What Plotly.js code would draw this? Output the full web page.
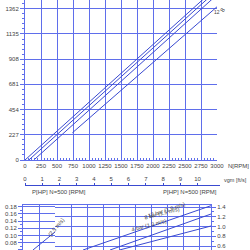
<!DOCTYPE html>
<html><head><meta charset="utf-8">
<script src="https://cdn.plot.ly/plotly-3.0.1.min.js"></script>
<style>html,body{margin:0;padding:0;background:#fff}#c{width:250px;height:250px}</style>
</head><body><div id="c"></div>
<script>
// Flow Q vs speed N for pressure levels
const flowN1 = [0, 3000];   const flowQ1 = [0, 1560];
const flowN2 = [60, 3000];  const flowQ2 = [0, 1529];
const flowN3 = [138, 3000]; const flowQ3 = [0, 1488];
const flowN4 = [740, 3000]; const flowQ4 = [245, 1380];
const flowTicks = [0, 227, 454, 681, 908, 1135, 1362];
const rpmTicks = [0, 250, 500, 750, 1000, 1250, 1500, 1750, 2000, 2250, 2500, 2750, 3000];
const vgmTicks = [0, 1, 2, 3, 4, 5, 6, 7, 8, 9, 10];
// Power at N=500
const lowN = [156, 500];   const lowP = [0.0597, 0.1097];
const p12N = [935, 2922];  const p12P = [0.518, 1.427];
const p8N = [1354, 2922];  const p8P = [0.518, 1.256];
const p4N = [1500, 2922];  const p4P = [0.518, 1.01];
const lowTicks = [0.06, 0.08, 0.10, 0.12, 0.14, 0.16, 0.18];
const highTicks = [0.6, 0.8, 1.0, 1.2, 1.4];

const blue = '#3a4ad0', grid = 'rgb(95,110,235)', txt = '#444';
const f = {family: 'Liberation Sans, Arial, sans-serif', size: 6, color: txt};
const px = v => v / 250, py = v => 1 - v / 250;
const ln = (x, y, xa, ya) => ({x, y, xaxis: xa, yaxis: ya, mode: 'lines', line: {color: blue, width: 1}, hoverinfo: 'none', showlegend: false});

const data = [
  ln(flowN1, flowQ1, 'x', 'y'), ln(flowN2, flowQ2, 'x', 'y'),
  ln(flowN3, flowQ3, 'x', 'y'), ln(flowN4, flowQ4, 'x', 'y'),
  {x: [null], y: [null], xaxis: 'x2', yaxis: 'y5', mode: 'lines', showlegend: false},
  ln(lowN, lowP, 'x3', 'y3'),
  ln(p12N, p12P, 'x4', 'y4'), ln(p8N, p8P, 'x4', 'y4'), ln(p4N, p4P, 'x4', 'y4')
];

const ax = {showgrid: true, gridcolor: grid, gridwidth: 1, showline: true, linecolor: grid, linewidth: 1,
  tickcolor: grid, tickfont: f, tickangle: 0, zeroline: false};

const layout = {
  width: 250, height: 250, margin: {l: 0, r: 0, t: 0, b: 0},
  paper_bgcolor: '#fff', plot_bgcolor: '#fff', font: f,
  xaxis: Object.assign({}, ax, {domain: [px(25), px(217)], range: [0, 3000], tickvals: rpmTicks, ticks: 'inside', ticklen: 2,
    minor: {dtick: 50, ticks: 'inside', ticklen: 2, tickcolor: grid, showgrid: false}, anchor: 'y'}),
  yaxis: Object.assign({}, ax, {domain: [py(160), 1], range: [0, 1441], tickvals: flowTicks, ticks: 'outside', ticklen: 4,
    minor: {dtick: 45.4, ticks: 'outside', ticklen: 2, tickcolor: grid, showgrid: false}, anchor: 'x'}),
  xaxis2: {domain: [px(25), px(220)], range: [0, 11.3], tickvals: vgmTicks, tickangle: 0, side: 'top', anchor: 'free', position: py(185),
    showgrid: false, showline: true, linecolor: blue, ticks: 'outside', ticklen: 2, tickcolor: blue, tickfont: f, zeroline: false},
  yaxis5: {domain: [py(185.5), py(184.5)], range: [0, 1], visible: false, showgrid: false, anchor: 'x2'},
  xaxis3: Object.assign({}, ax, {domain: [px(23), px(55)], range: [0, 500], tickvals: [250], showticklabels: false, mirror: true, ticks: '', anchor: 'y3'}),
  yaxis3: Object.assign({}, ax, {domain: [0, py(205)], range: [0.0597, 0.1847], tickvals: lowTicks, ticktext: lowTicks.map(v => v.toFixed(2)),
    ticks: 'outside', ticklen: 4, minor: {dtick: 0.01, ticks: 'outside', ticklen: 2, tickcolor: grid, showgrid: false}, anchor: 'x3'}),
  xaxis4: Object.assign({}, ax, {domain: [px(55), px(211)], range: [500, 2922], tickvals: [750, 1000, 1250, 1500, 1750, 2000, 2250, 2500, 2750],
    showticklabels: false, mirror: true, ticks: '', anchor: 'y4'}),
  yaxis4: Object.assign({}, ax, {domain: [0, py(205)], range: [0.518, 1.441], tickvals: highTicks, ticktext: highTicks.map(v => v.toFixed(1)), side: 'right',
    ticks: 'outside', ticklen: 4, minor: {dtick: 0.1, ticks: 'outside', ticklen: 2, tickcolor: grid, showgrid: false}, anchor: 'x4'}),
  annotations: [
    {text: 'N[RPM]', x: px(226), xanchor: 'left', y: py(166), xref: 'paper', yref: 'paper', showarrow: false, font: f},
    {text: 'vgm [ft/s]', x: px(222), xanchor: 'left', y: py(185), xref: 'paper', yref: 'paper', showarrow: false, font: {family: f.family, size: 5.5, color: txt}},
    {text: 'P[HP] N=500 [RPM]', x: px(30), y: py(197), xref: 'paper', yref: 'paper', showarrow: false, font: f},
    {text: 'P[HP] N=500 [RPM]', x: px(219), y: py(197), xref: 'paper', yref: 'paper', showarrow: false, font: f},
    {text: '12', x: px(222), y: py(7), xref: 'paper', yref: 'paper', showarrow: false, font: {family: f.family, size: 5, color: txt}},
    {text: '8', x: px(229), y: py(4), xref: 'paper', yref: 'paper', showarrow: false, textangle: -60, font: {family: f.family, size: 6, color: txt}},
    {text: '12 bar (1.9 m/s)', x: px(166), y: py(221), xref: 'paper', yref: 'paper', showarrow: false, textangle: -18, font: {family: f.family, size: 5.5, color: txt}},
    {text: '8 bar (1.5 m/s)', x: px(183), y: py(223), xref: 'paper', yref: 'paper', showarrow: false, textangle: -14, font: {family: f.family, size: 5.5, color: txt}},
    {text: '4 bar (1.3 m/s)', x: px(170), y: py(235), xref: 'paper', yref: 'paper', showarrow: false, textangle: -14, font: {family: f.family, size: 5.5, color: txt}},
    {text: '(2.5 m/s)', x: px(44), y: py(240), xref: 'paper', yref: 'paper', showarrow: false, textangle: -50, font: {family: f.family, size: 5.5, color: txt}}
  ]
};
Plotly.newPlot('c', data, layout, {staticPlot: true, displayModeBar: false});
</script></body></html>
